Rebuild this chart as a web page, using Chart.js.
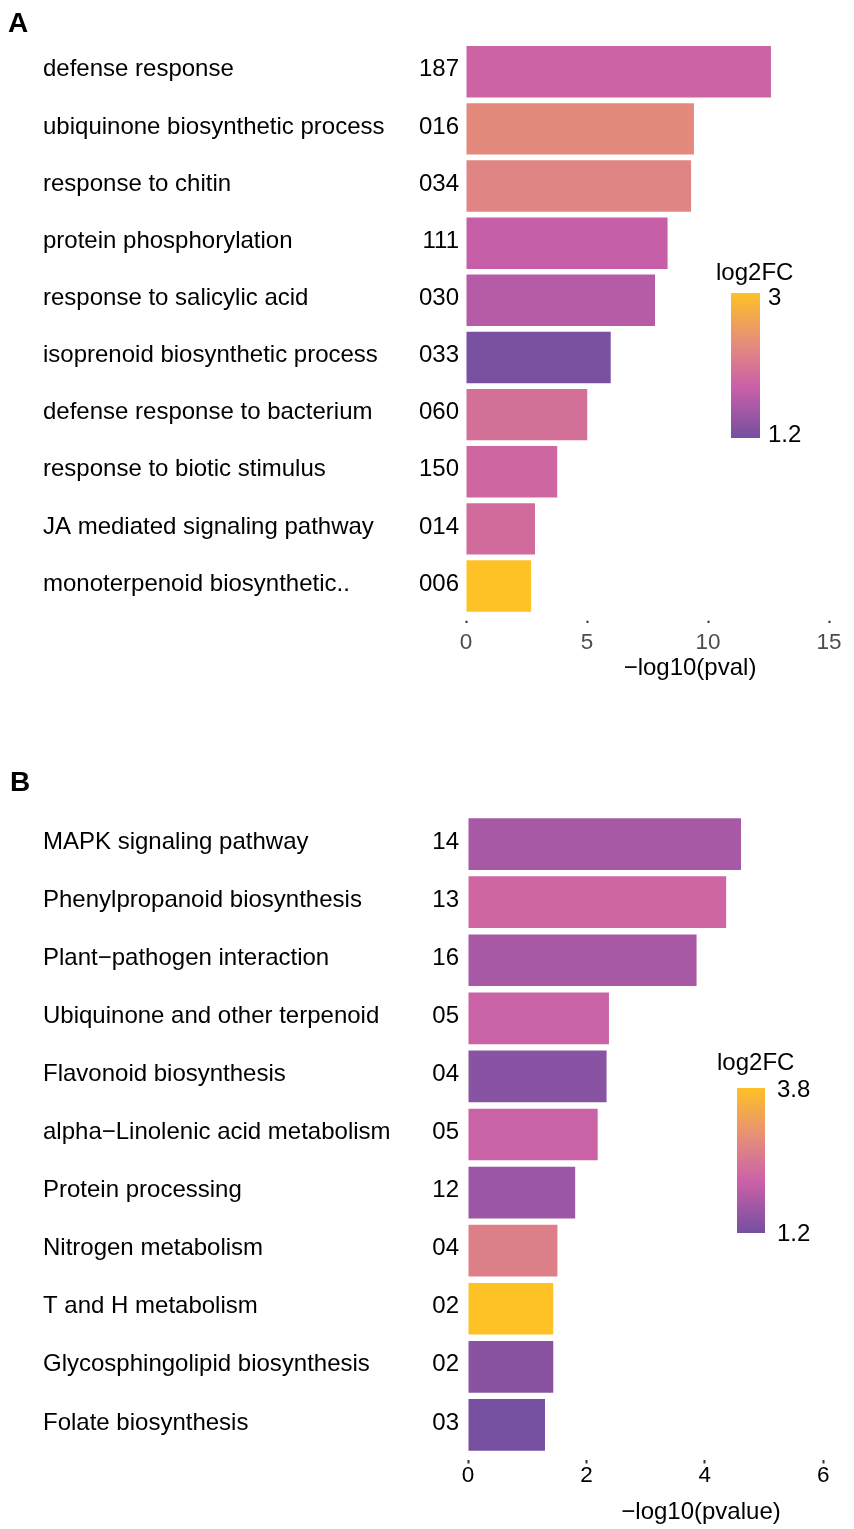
<!DOCTYPE html>
<html>
<head>
<meta charset="utf-8">
<script src="https://cdn.jsdelivr.net/npm/chart.js@4.4.1/dist/chart.umd.min.js"></script>
<style>
  html, body { margin: 0; padding: 0; background: #fff; }
  body { width: 854px; height: 1529px; position: relative; overflow: hidden; }
  .panel { position: absolute; left: 0; width: 854px; }
  #panelA { top: 0; height: 710px; }
  #panelB { top: 740px; height: 789px; }
</style>
</head>
<body>
<div class="panel" id="panelA"><canvas id="goChart"></canvas></div>
<div class="panel" id="panelB"><canvas id="keggChart"></canvas></div>
<script>
const FONT = '"Liberation Sans", Arial, Helvetica, sans-serif';

// Panel A - GO terms
const goTerms = [
  "defense response",
  "ubiquinone biosynthetic process",
  "response to chitin",
  "protein phosphorylation",
  "response to salicylic acid",
  "isoprenoid biosynthetic process",
  "defense response to bacterium",
  "response to biotic stimulus",
  "JA mediated signaling pathway",
  "monoterpenoid biosynthetic.."
];
const goCounts = ["187", "016", "034", "111", "030", "033", "060", "150", "014", "006"];
const goPval = [12.6, 9.42, 9.3, 8.33, 7.81, 5.98, 5.01, 3.77, 2.85, 2.69];
const goLog2FC = [1.87, 2.35, 2.28, 1.81, 1.69, 1.24, 2.03, 1.92, 1.97, 3.0];
const goTicks = [0, 5, 10, 15];
const goFCRange = [1.2, 3];

// Panel B - KEGG pathways
const keggTerms = [
  "MAPK signaling pathway",
  "Phenylpropanoid biosynthesis",
  "Plant\u2212pathogen interaction",
  "Ubiquinone and other terpenoid",
  "Flavonoid biosynthesis",
  "alpha\u2212Linolenic acid metabolism",
  "Protein processing",
  "Nitrogen metabolism",
  "T and H metabolism",
  "Glycosphingolipid biosynthesis",
  "Folate biosynthesis"
];
const keggCounts = ["14", "13", "16", "05", "04", "05", "12", "04", "02", "02", "03"];
const keggPval = [4.61, 4.36, 3.86, 2.38, 2.34, 2.19, 1.81, 1.51, 1.44, 1.44, 1.30];
const keggLog2FC = [1.75, 2.21, 1.75, 2.14, 1.40, 2.14, 1.61, 2.66, 3.8, 1.42, 1.22];
const keggTicks = [0, 2, 4, 6];
const keggFCRange = [1.2, 3.8];

// purple -> pink -> salmon -> yellow
const palette = [[0, [117, 79, 160]], [0.35, [201, 96, 168]], [0.65, [229, 140, 123]], [1, [254, 193, 38]]];

function paletteAt(t) {
  t = Math.max(0, Math.min(1, t));
  for (let i = 1; i < palette.length; i++) {
    const [t0, c0] = palette[i - 1], [t1, c1] = palette[i];
    if (t <= t1) {
      const f = (t - t0) / (t1 - t0);
      const c = c0.map((v, k) => Math.round(v + (c1[k] - v) * f));
      return `rgb(${c[0]}, ${c[1]}, ${c[2]})`;
    }
  }
  return "rgb(254, 193, 38)";
}

function fcColors(values, range) {
  return values.map(v => paletteAt((v - range[0]) / (range[1] - range[0])));
}

// term names + gene counts on the left, the legend and the titles
function decorations(o) {
  return {
    id: "decorations",
    afterDraw(chart) {
      const ctx = chart.ctx;
      const y = chart.scales.y;
      ctx.save();
      ctx.fillStyle = "#000";
      ctx.textBaseline = "middle";

      ctx.font = `bold 28px ${FONT}`;
      ctx.textAlign = "left";
      ctx.fillText(o.letter, o.letterX, o.letterY);

      ctx.font = `24px ${FONT}`;
      o.names.forEach((name, i) => {
        const py = y.getPixelForValue(i) - 2;
        ctx.textAlign = "left";
        ctx.fillText(name, 43, py);
        ctx.textAlign = "right";
        ctx.fillText(o.counts[i], 459, py);
      });

      ctx.textAlign = "center";
      ctx.fillText(o.axisTitle, o.axisTitleX, o.axisTitleY);

      // colour bar
      const b = o.bar;
      const grad = ctx.createLinearGradient(0, b.top + b.h, 0, b.top);
      for (let t = 0; t <= 1.0001; t += 0.05) grad.addColorStop(Math.min(t, 1), paletteAt(t));
      ctx.fillStyle = grad;
      ctx.fillRect(b.x, b.top, b.w, b.h);

      ctx.fillStyle = "#000";
      ctx.textAlign = "left";
      ctx.fillText("log2FC", o.legendTitleX, o.legendTitleY);
      ctx.fillText(String(o.range[1]), o.labelX, o.maxLabelY);
      ctx.fillText(String(o.range[0]), o.labelX, o.minLabelY);
      ctx.restore();
    }
  };
}

function makeChart(canvasId, cfg) {
  return new Chart(document.getElementById(canvasId).getContext("2d"), {
    type: "bar",
    data: {
      labels: cfg.names,
      datasets: [{
        data: cfg.values,
        backgroundColor: fcColors(cfg.fc, cfg.range),
        borderWidth: 0,
        barPercentage: cfg.barPct,
        categoryPercentage: 1
      }]
    },
    options: {
      indexAxis: "y",
      responsive: true,
      maintainAspectRatio: false,
      animation: false,
      layout: { padding: cfg.padding },
      plugins: { legend: { display: false }, tooltip: { enabled: false } },
      scales: {
        y: { display: false, offset: true },
        x: {
          min: cfg.ticks[0],
          max: cfg.ticks[cfg.ticks.length - 1],
          afterBuildTicks: s => { s.ticks = cfg.ticks.map(v => ({ value: v })); },
          afterFit: s => { s.height = 40; },
          border: { display: false },
          grid: {
            display: true,
            drawOnChartArea: false,
            tickLength: cfg.tickLen,
            tickColor: "#333",
            tickWidth: 2,
            tickBorderDash: cfg.tickDash
          },
          ticks: {
            color: cfg.tickColor,
            padding: cfg.tickPad,
            maxRotation: 0,
            font: { family: FONT, size: 22.5, lineHeight: 1 }
          }
        }
      }
    },
    plugins: [decorations(cfg.deco)]
  });
}

makeChart("goChart", {
  names: goTerms, values: goPval, fc: goLog2FC, range: goFCRange, ticks: goTicks,
  barPct: 0.9,
  padding: { left: 466, right: 25, top: 43.2, bottom: 55.4 },
  tickLen: 8.5, tickDash: [0, 5.7, 3, 100], tickPad: 8, tickColor: "#4D4D4D",
  deco: {
    letter: "A", letterX: 8, letterY: 24,
    names: goTerms, counts: goCounts,
    axisTitle: "\u2212log10(pval)", axisTitleX: 690, axisTitleY: 668,
    bar: { x: 731, top: 293, w: 29, h: 145 },
    range: goFCRange,
    legendTitleX: 716, legendTitleY: 273,
    labelX: 768, maxLabelY: 298, minLabelY: 435
  }
});

makeChart("keggChart", {
  names: keggTerms, values: keggPval, fc: keggLog2FC, range: keggFCRange, ticks: keggTicks,
  barPct: 0.89,
  padding: { left: 468, right: 30.7, top: 75, bottom: 35 },
  tickLen: 9.5, tickDash: [0, 6, 3.5, 100], tickPad: 1.5, tickColor: "#000",
  deco: {
    letter: "B", letterX: 10, letterY: 43,
    names: keggTerms, counts: keggCounts,
    axisTitle: "\u2212log10(pvalue)", axisTitleX: 701, axisTitleY: 772,
    bar: { x: 737, top: 348, w: 28, h: 145 },
    range: keggFCRange,
    legendTitleX: 717, legendTitleY: 323,
    labelX: 777, maxLabelY: 350, minLabelY: 494
  }
});
</script>
</body>
</html>
